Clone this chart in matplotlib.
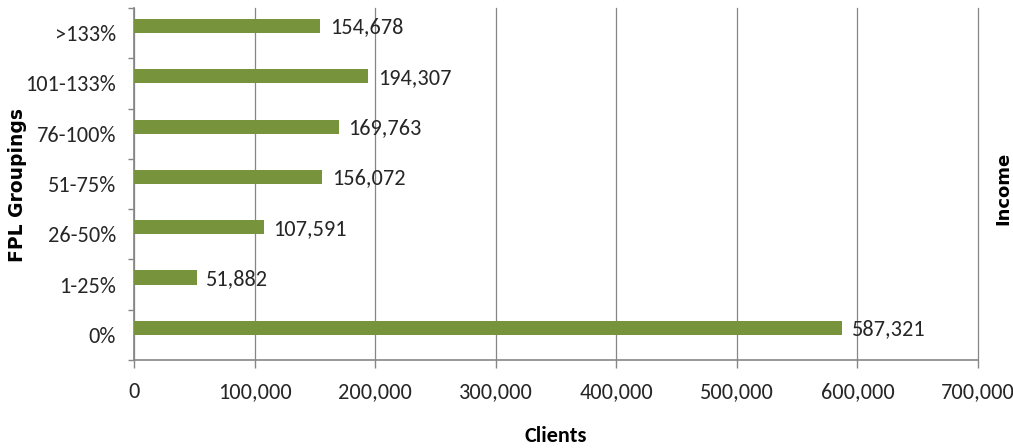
import matplotlib
matplotlib.use("Agg")
import matplotlib.pyplot as plt
import numpy as np

# FPL groupings and client counts (bottom to top)
groups = ["0%", "1-25%", "26-50%", "51-75%", "76-100%", "101-133%", ">133%"]
clients = [587321, 51882, 107591, 156072, 169763, 194307, 154678]
xticks = [0, 100000, 200000, 300000, 400000, 500000, 600000, 700000]

calibri = ["Carlito", "DejaVu Sans"]
bar_color = "#77933C"
line_color = "#868686"
text_color = "#262626"
fs = 16

fig = plt.figure(figsize=(10.13, 4.48), dpi=100)
ax = fig.add_axes([134/1013, 1 - 360/448, (978 - 134)/1013, (360 - 8)/448])

y = np.arange(len(groups))
# bars sit a bit above the band centre (empty second series in the original)
ax.barh(y + 0.14, clients, height=0.28, color=bar_color, zorder=3)

for yi, v in zip(y, clients):
    ax.annotate(f"{v:,}", (v, yi + 0.14), xytext=(7, -1), textcoords="offset points",
                ha="left", va="center", fontsize=fs, family=calibri,
                color=text_color, zorder=4)

ax.set_xlim(0, 700000)
ax.set_ylim(-0.5, len(groups) - 0.5)

ax.set_xticks(xticks)
ax.set_xticklabels([f"{t:,}" for t in xticks], family=calibri, fontsize=fs,
                   color=text_color)
ax.tick_params(axis="x", length=6, width=1, color=line_color, pad=10)

# category boundary ticks, labels at centres
ax.set_yticks(np.arange(-0.5, len(groups), 1.0))
ax.set_yticklabels([])
ax.set_yticks(y, minor=True)
ax.set_yticklabels(groups, minor=True, family=calibri, fontsize=fs,
                   color=text_color)
ax.tick_params(axis="y", which="major", length=4.5, width=1, color=line_color)
ax.tick_params(axis="y", which="minor", length=0, pad=13)

ax.grid(axis="x", color=line_color, linewidth=0.9, zorder=0)
for gl in ax.get_xgridlines():
    gl.set_clip_on(False)
for s in ["top", "right"]:
    ax.spines[s].set_visible(False)
for s in ["left", "bottom"]:
    ax.spines[s].set_color(line_color)
    ax.spines[s].set_linewidth(1.2)

fig.text(18/1013, 1 - 185/448, "FPL Groupings", rotation=90, ha="center",
         va="center", fontsize=13.5, fontweight="bold", family="DejaVu Sans")
fig.text(1012/1013, 1 - 188/448, "Income", rotation=90, ha="right",
         va="center", fontsize=13, fontweight="bold", family="DejaVu Sans")
fig.text(556/1013, 1 - 436/448, "Clients", ha="center", va="center",
         fontsize=16, fontweight="bold", family=calibri)

fig.savefig("out.png", dpi=100)
